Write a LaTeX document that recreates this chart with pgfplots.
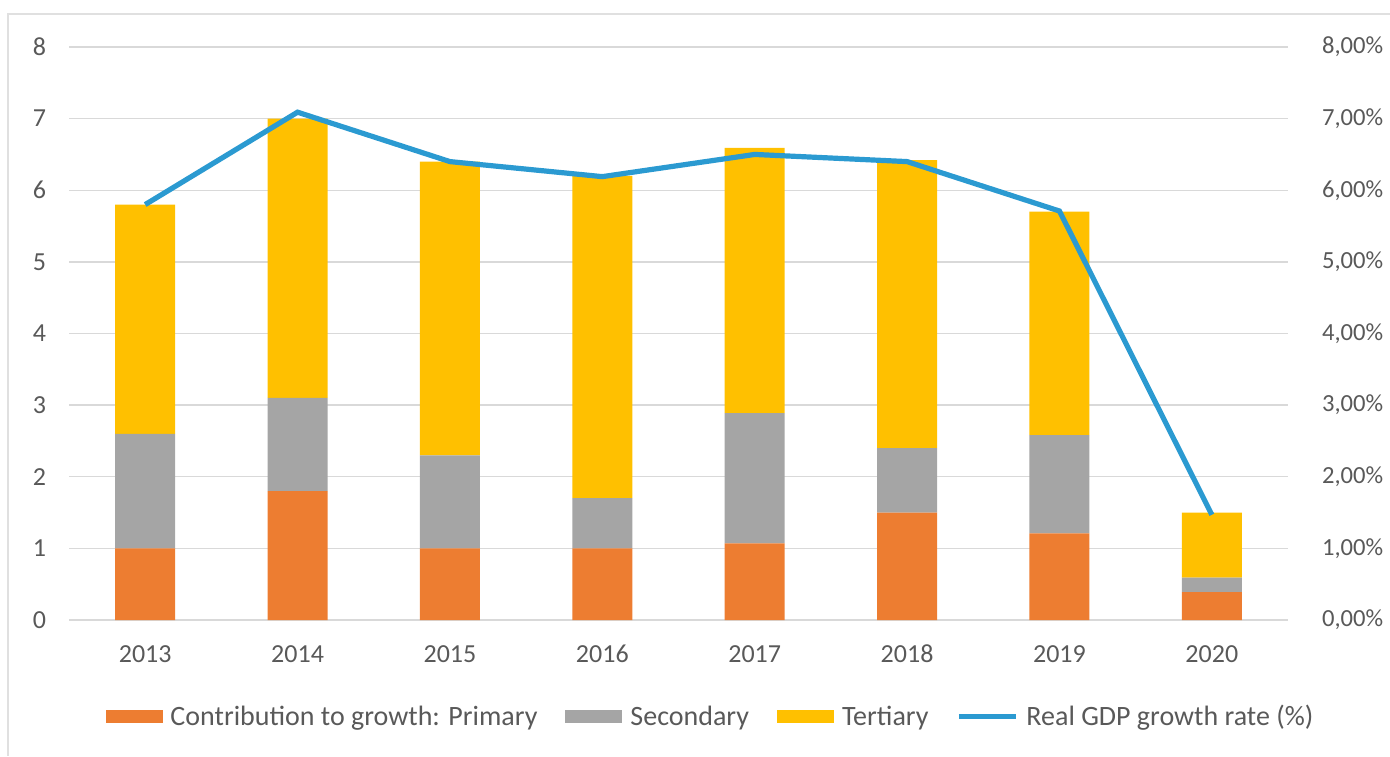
\documentclass[border=0pt]{standalone}
\usepackage{fontspec}
\setmainfont{Carlito}
\usepackage{pgfplots}
\usepackage{pgfplotstable}
\pgfplotsset{compat=1.18}

\definecolor{prim}{HTML}{ED7D31}
\definecolor{sec}{HTML}{A5A5A5}
\definecolor{ter}{HTML}{FFC000}
\definecolor{gdp}{HTML}{2B9AD1}
\definecolor{txt}{HTML}{595959}
\definecolor{grd}{HTML}{D9D9D9}

% contributions to growth by sector, and real GDP growth (%)
\pgfplotstableread{
x  prim  sec   ter   gdp
0  1.00  1.60  3.20  5.80
1  1.80  1.30  3.90  7.09
2  1.00  1.30  4.10  6.40
3  1.00  0.70  4.50  6.19
4  1.07  1.82  3.70  6.50
5  1.50  0.90  4.02  6.40
6  1.21  1.37  3.12  5.71
7  0.39  0.20  0.91  1.47
}\growth

\begin{document}
\begin{tikzpicture}

\begin{axis}[
    scale only axis, width=609.5pt, height=286.5pt,
    ybar stacked, bar width=30pt,
    xmin=-0.5, xmax=7.5, ymin=0, ymax=8,
    xtick={0,...,7},
    xticklabels={2013,2014,2015,2016,2017,2018,2019,2020},
    ytick={0,...,8},
    ymajorgrids, grid style={grd, line width=0.7pt},
    axis line style={draw=none}, tick style={draw=none},
    ticklabel style={font=\fontsize{13}{15}\selectfont, text=txt},
    /pgf/number format/assume math mode=true,
    xticklabel style={yshift=-8.5pt, text height=9pt, text depth=0pt},
    yticklabel style={xshift=-8pt},
    legend columns=4,
    legend style={draw=none, fill=none, at={(0.527,-0.169)}, anchor=center,
        font=\fontsize{14}{16}\selectfont, text=txt,
        /tikz/every odd column/.append style={column sep=2pt},
        /tikz/every even column/.append style={column sep=12pt}},
    area legend,
    legend image code/.code={\fill[#1] (0pt,-3.3pt) rectangle (28.5pt,3.3pt);},
]
\coordinate (o) at (rel axis cs:0,0);
\addplot[fill=prim, draw=none] table[x=x, y=prim] {\growth};
\addlegendentry{Contribution to growth: Primary}
\addplot[fill=sec, draw=none] table[x=x, y=sec] {\growth};
\addlegendentry{Secondary}
\addplot[fill=ter, draw=none] table[x=x, y=ter] {\growth};
\addlegendentry{Tertiary}
\addlegendimage{legend image code/.code={\draw[gdp, line width=2.5pt] (0pt,0pt) -- (28.5pt,0pt);}}
\addlegendentry{Real GDP growth rate (\%)}
\end{axis}

\begin{axis}[
    scale only axis, width=609.5pt, height=286.5pt,
    xmin=-0.5, xmax=7.5, ymin=0, ymax=8,
    axis y line*=right, hide x axis,
    axis line style={draw=none}, tick style={draw=none},
    ytick={0,...,8},
    yticklabels={0{,}00\%,1{,}00\%,2{,}00\%,3{,}00\%,4{,}00\%,5{,}00\%,6{,}00\%,7{,}00\%,8{,}00\%},
    ticklabel style={font=\fontsize{12.3}{14}\selectfont, text=txt},
    yticklabel style={xshift=13.5pt},
]
\addplot[gdp, line width=2.6pt, mark=none] table[x=x, y=gdp] {\growth};
\end{axis}

% chart frame and fixed page size
\draw[black!12, line width=1pt] ([shift={(-30.5pt,-68pt)}]o) -- ++(0pt,371pt) -- ++(691pt,0pt);
\pgfresetboundingbox
\path[use as bounding box] ([shift={(-34.5pt,-68pt)}]o) rectangle ++(695pt,378pt);
\end{tikzpicture}
\end{document}
